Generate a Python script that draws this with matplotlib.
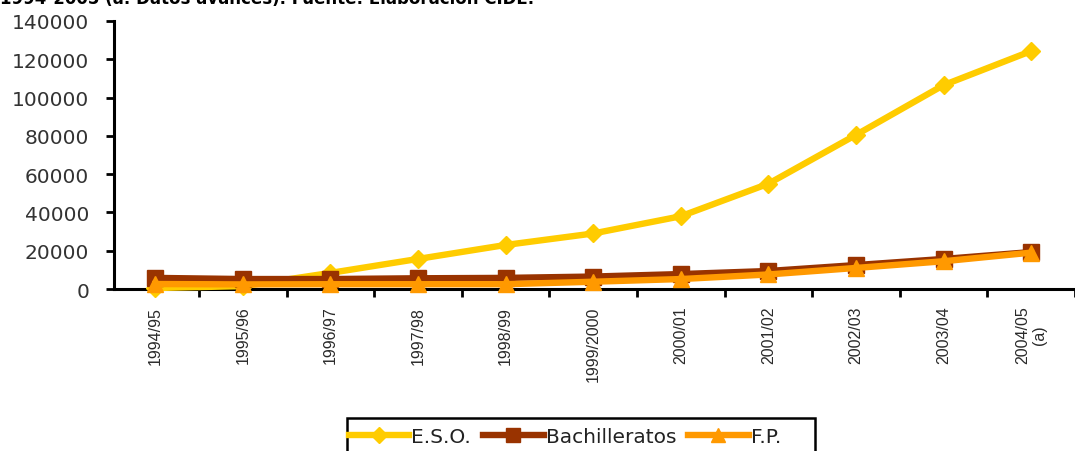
import matplotlib
matplotlib.use("Agg")
import matplotlib.pyplot as plt
from matplotlib.patches import Rectangle
from matplotlib.ticker import FixedLocator, FuncFormatter

plt.rcParams['font.family'] = ['DejaVu Sans']

cursos = ["1994/95", "1995/96", "1996/97", "1997/98", "1998/99", "1999/2000",
          "2000/01", "2001/02", "2002/03", "2003/04", "2004/05\n(a)"]
eso = [500, 1500, 8400, 15700, 23000, 29000, 38000, 55000, 80500, 106500, 124300]
bachilleratos = [5800, 5200, 5200, 5600, 5800, 6500, 7800, 9400, 12500, 15700, 19300]
fp = [2600, 2400, 2500, 2500, 2500, 3800, 5200, 7600, 11000, 14500, 19000]
y_ticks = [0, 20000, 40000, 60000, 80000, 100000, 120000, 140000]

W, H = 1075, 452
fig = plt.figure(figsize=(W / 100, H / 100), dpi=100)
ax = fig.add_axes([114 / W, 1 - 290 / H, (W - 114) / W, (290 - 22) / H])

x = list(range(len(cursos)))
series = [
    ("E.S.O.", eso, "#FFCC00", "D", 9),
    ("Bachilleratos", bachilleratos, "#993300", "s", 12),
    ("F.P.", fp, "#FF9900", "^", 12),
]
for name, vals, col, mk, ms in series:
    ax.plot(x, vals, color=col, lw=4.6, marker=mk, markersize=ms,
            markeredgecolor=col, label=name, solid_joinstyle="round",
            clip_on=False, zorder=3)

ax.set_ylim(0, 140000)
ax.set_xlim(-0.47, 10.4)
ax.yaxis.set_major_locator(FixedLocator(y_ticks))
ax.yaxis.set_major_formatter(FuncFormatter(lambda v, p: f"{int(v)}"))
ax.set_xticks(x)
ax.set_xticklabels(cursos, rotation=90, ha="center", va="top",
                   multialignment="center", fontsize=11.5, color="#2a2a2a",
                   family="Liberation Sans")
ax.tick_params(axis="x", which="major", length=0, pad=12)
ax.set_xticks([i + 0.5 for i in range(len(cursos))], minor=True)
ax.tick_params(axis="x", which="minor", direction="out", length=6, width=2,
               color="black")
ax.tick_params(axis="y", direction="out", length=6, width=2, labelsize=14.5,
               labelcolor="#333333", pad=12)

for s in ("top", "right"):
    ax.spines[s].set_visible(False)
for s in ("left", "bottom"):
    ax.spines[s].set_linewidth(2.2)
    ax.spines[s].set_color("black")
ax.set_facecolor("white")

# legend entries without frame; the box is drawn separately and runs off the bottom edge
handles, labels = ax.get_legend_handles_labels()
leg = fig.legend(handles, labels, loc="upper left",
                 bbox_to_anchor=(349 / W, 1 - 428 / H), ncol=3, frameon=False,
                 fontsize=14.5, handlelength=3.0, columnspacing=0.6,
                 handletextpad=0.1, borderpad=0.0, borderaxespad=0.0,
                 markerscale=0.85, labelcolor="#222222")
fig.add_artist(Rectangle((347 / W, -0.05), (815 - 347) / W, 0.05 + (452 - 419) / H,
                         transform=fig.transFigure, fill=False,
                         edgecolor="black", linewidth=1.8))

fig.text(0.0, 1 + 1 / H, "1994-2005 (a: Datos avances). Fuente: Elaboración CIDE.",
         fontsize=12, fontweight="bold", ha="left", va="center")

fig.savefig("out.png", dpi=100, facecolor="white")
